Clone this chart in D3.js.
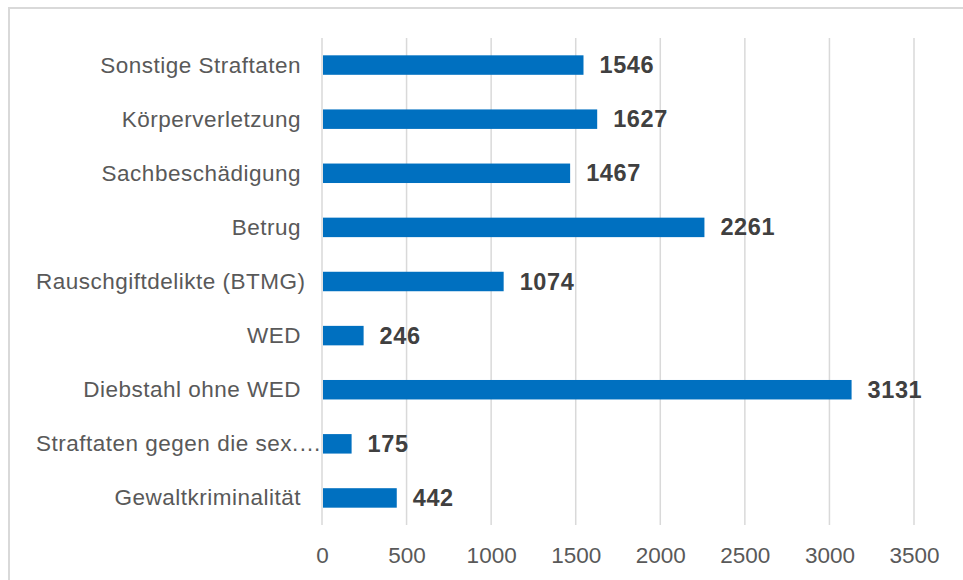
<!DOCTYPE html>
<html>
<head>
<meta charset="utf-8">
<script src="https://cdn.jsdelivr.net/npm/d3@7"></script>
<style>
  html, body { margin: 0; padding: 0; background: #fff; }
  svg { display: block; }
  text { font-family: "Liberation Sans", Arial, sans-serif; }
</style>
</head>
<body>
<svg id="chart" width="963" height="580"></svg>
<script>
const categories = [
  "Sonstige Straftaten",
  "Körperverletzung",
  "Sachbeschädigung",
  "Betrug",
  "Rauschgiftdelikte (BTMG)",
  "WED",
  "Diebstahl ohne WED",
  "Straftaten gegen die sex.…",
  "Gewaltkriminalität"
];
const values = [1546, 1627, 1467, 2261, 1074, 246, 3131, 175, 442];
const xTicks = [0, 500, 1000, 1500, 2000, 2500, 3000, 3500];

(function () {
const data = categories.map((c, i) => ({ cat: c, val: values[i] }));

const svg = d3.select("#chart");
const W = 963, H = 580;
const mLeft = 322, mRight = 914, mTop = 38, mBottom = 525;

// outer chart border
svg.append("rect")
  .attr("x", 9).attr("y", 8)
  .attr("width", W + 20).attr("height", H + 20)
  .attr("fill", "#fff")
  .attr("stroke", "#d9d9d9").attr("stroke-width", 2);

const x = d3.scaleLinear().domain([0, 3500]).range([mLeft, mRight]);
const y = d3.scaleBand().domain(categories).range([mTop, mBottom])
  .paddingInner(0.64).paddingOuter(0.32);

// gridlines
svg.append("g")
  .selectAll("line")
  .data(xTicks)
  .join("line")
  .attr("x1", d => x(d)).attr("x2", d => x(d))
  .attr("y1", mTop).attr("y2", mBottom)
  .attr("stroke", "#d9d9d9").attr("stroke-width", 1.5);

// x tick labels
const xAxis = d3.axisBottom(x).tickValues(xTicks).tickSize(0).tickPadding(0)
  .tickFormat(d3.format("d"));
const gx = svg.append("g").attr("transform", `translate(0,${mBottom})`).call(xAxis);
gx.select(".domain").remove();
gx.selectAll("text")
  .attr("dy", null)
  .attr("y", 37.7)
  .attr("fill", "#595959")
  .style("font-size", "22.5px")
  .style("font-family", '"Liberation Sans", Arial, sans-serif');

// bars
svg.append("g")
  .selectAll("rect")
  .data(data)
  .join("rect")
  .attr("x", x(0) + 1)
  .attr("y", d => y(d.cat))
  .attr("width", d => x(d.val) - x(0) - 1)
  .attr("height", y.bandwidth())
  .attr("fill", "#0070c0");

// value labels
svg.append("g")
  .selectAll("text")
  .data(data)
  .join("text")
  .attr("x", d => x(d.val) + 16)
  .attr("y", d => y(d.cat) + y.bandwidth() / 2 + 8)
  .attr("fill", "#404040")
  .attr("font-weight", "bold")
  .style("font-size", "23.5px")
  .style("letter-spacing", "0.6px")
  .text(d => d.val);

// category labels
const labelRight = 301, labelMinLeft = 36;
svg.append("g")
  .selectAll("text")
  .data(data)
  .join("text")
  .attr("x", labelRight)
  .attr("y", d => y(d.cat) + y.bandwidth() / 2 + 7.5)
  .attr("text-anchor", "end")
  .attr("fill", "#595959")
  .style("font-size", "22.5px")
  .style("letter-spacing", "0.5px")
  .text(d => d.cat)
  .each(function () {
    const w = this.getComputedTextLength();
    if (labelRight - w < labelMinLeft) {
      d3.select(this).attr("text-anchor", "start").attr("x", labelMinLeft);
    }
  });
})();
</script>
</body>
</html>
